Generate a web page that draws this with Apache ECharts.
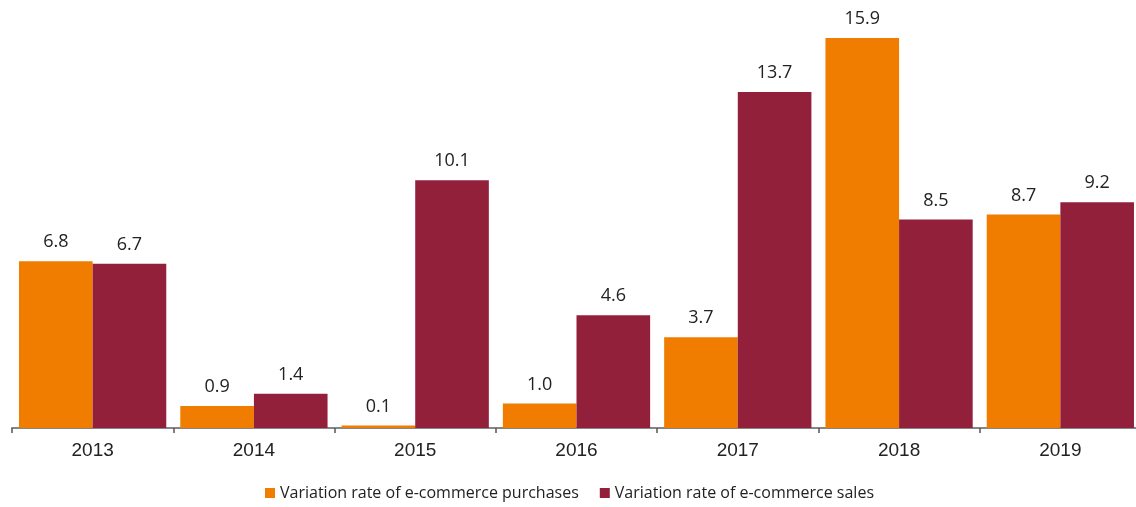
<!DOCTYPE html>
<html>
<head>
<meta charset="utf-8">
<script src="https://cdn.jsdelivr.net/npm/echarts@6/dist/echarts.min.js"></script>
<style>
  html, body { margin: 0; padding: 0; background: #ffffff; overflow: hidden; }
  /* canvas is a few pixels wider than the window so the axis runs off the right edge */
  #chart { width: 1141px; height: 507px; }
</style>
</head>
<body>
<div id="chart"></div>
<script>
// Yearly variation rates of e-commerce activity (%)
const years = ['2013', '2014', '2015', '2016', '2017', '2018', '2019'];
const purchases = [6.8, 0.9, 0.1, 1.0, 3.7, 15.9, 8.7];
const sales = [6.7, 1.4, 10.1, 4.6, 13.7, 8.5, 9.2];
const seriesNames = ['Variation rate of e-commerce purchases', 'Variation rate of e-commerce sales'];

const chart = echarts.init(document.getElementById('chart'), null, { renderer: 'canvas' });

const labelStyle = {
  show: true,
  position: 'top',
  distance: 10,
  color: '#222222',
  fontSize: 18,
  fontFamily: 'Open Sans',
  formatter: p => p.value.toFixed(1)
};

chart.setOption({
  animation: false,
  backgroundColor: '#ffffff',
  grid: { left: 12, right: 0, top: 35.5, bottom: 79, containLabel: false },
  legend: {
    bottom: 1,
    left: 260,
    itemWidth: 10,
    itemHeight: 10,
    itemGap: 21,
    icon: 'rect',
    textStyle: { color: '#222222', fontSize: 16, fontFamily: 'Open Sans' },
    data: seriesNames
  },
  xAxis: {
    type: 'category',
    data: years,
    boundaryGap: true,
    axisLine: { lineStyle: { color: '#868686', width: 2 } },
    axisTick: { show: true, length: 5, lineStyle: { color: '#555555', width: 1.5 } },
    axisLabel: { color: '#222222', fontSize: 19, fontFamily: 'Liberation Sans', margin: 13 }
  },
  yAxis: {
    type: 'value',
    min: 0,
    max: 16,
    show: false,
    splitLine: { show: false }
  },
  series: [
    {
      name: seriesNames[0],
      type: 'bar',
      data: purchases,
      barGap: '0%',
      barCategoryGap: '8.7%',
      itemStyle: { color: '#F07C00' },
      label: labelStyle
    },
    {
      name: seriesNames[1],
      type: 'bar',
      data: sales,
      barGap: '0%',
      barCategoryGap: '8.7%',
      itemStyle: { color: '#93203A' },
      label: labelStyle
    }
  ]
});
</script>
</body>
</html>
